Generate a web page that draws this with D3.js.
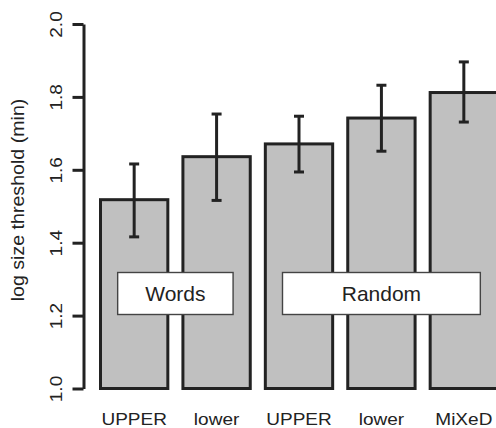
<!DOCTYPE html>
<html>
<head>
<meta charset="utf-8">
<script src="https://cdn.jsdelivr.net/npm/d3@7"></script>
<style>
  html, body { margin: 0; padding: 0; background: #fff; }
  svg { display: block; }
  text { font-family: "Liberation Sans", Arial, Helvetica, sans-serif; fill: #222; }
</style>
</head>
<body>
<div id="chart"></div>
<script>
// data
const categories = ["UPPER", "lower", "UPPER", "lower", "MiXeD"];
const means = [1.518, 1.636, 1.671, 1.742, 1.812];
const errLow = [1.416, 1.516, 1.594, 1.651, 1.731];
const errHigh = [1.616, 1.753, 1.747, 1.832, 1.896];
const yTicks = [1.0, 1.2, 1.4, 1.6, 1.8, 2.0];
const groups = ["Words", "Random"];
const groupFirst = [0, 2];
const groupLast = [1, 4];

const width = 496, height = 428;
const dark = "#222";

const svg = d3.select("#chart")
  .append("svg")
  .attr("width", width)
  .attr("height", height);

const idx = d3.range(categories.length);

// x scale, one band per bar (bars run off the right edge like the original)
const x = d3.scaleBand()
  .domain(idx)
  .range([100.5, 497.5])
  .paddingInner(0.183)
  .paddingOuter(0);

const y = d3.scaleLinear()
  .domain([1.0, 2.0])
  .range([388.5, 24]);

// y axis
const axisX = 83.5;
const yAxis = svg.append("g")
  .attr("transform", `translate(${axisX},0)`)
  .call(d3.axisLeft(y).tickValues(yTicks).tickSize(11).tickSizeOuter(0).tickFormat(d3.format(".1f")));

yAxis.select(".domain").attr("stroke", dark).attr("stroke-width", 3);
yAxis.selectAll(".tick line").attr("stroke", dark).attr("stroke-width", 3);
yAxis.selectAll(".tick text")
  .attr("x", 0)
  .attr("y", -21.5)
  .attr("dy", null)
  .attr("text-anchor", "middle")
  .attr("transform", "rotate(-90) scale(1.12,1)")
  .style("font-size", "17px")
  .attr("fill", "#333");

// axis title
svg.append("text")
  .attr("transform", "translate(24,200) rotate(-90) scale(1.09,1)")
  .attr("text-anchor", "middle")
  .style("font-size", "18px")
  .attr("fill", "#333")
  .text("log size threshold (min)");

// bars
svg.append("g")
  .selectAll("rect")
  .data(idx)
  .join("rect")
  .attr("x", i => x(i))
  .attr("y", i => y(means[i]))
  .attr("width", x.bandwidth())
  .attr("height", i => y(1.0) - y(means[i]))
  .attr("fill", "#c0c0c0")
  .attr("stroke", dark)
  .attr("stroke-width", 3);

// error bars
const cap = 5;
const eb = svg.append("g")
  .attr("stroke", dark)
  .attr("stroke-width", 3)
  .selectAll("g")
  .data(idx)
  .join("g")
  .attr("transform", i => `translate(${x(i) + x.bandwidth() / 2},0)`);
eb.append("line")
  .attr("y1", i => y(errLow[i]))
  .attr("y2", i => y(errHigh[i]));
eb.append("line")
  .attr("x1", -cap).attr("x2", cap)
  .attr("y1", i => y(errHigh[i])).attr("y2", i => y(errHigh[i]));
eb.append("line")
  .attr("x1", -cap).attr("x2", cap)
  .attr("y1", i => y(errLow[i])).attr("y2", i => y(errLow[i]));

// group label boxes
const boxPad = 16.5;
const boxTop = 272.5, boxH = 42;
const gl = svg.append("g")
  .selectAll("g")
  .data(d3.range(groups.length))
  .join("g");
gl.append("rect")
  .attr("x", g => x(groupFirst[g]) + x.bandwidth() / 2 - boxPad)
  .attr("y", boxTop)
  .attr("width", g => x(groupLast[g]) - x(groupFirst[g]) + 2 * boxPad)
  .attr("height", boxH)
  .attr("fill", "#fff")
  .attr("stroke", "#444")
  .attr("stroke-width", 1.4);
gl.append("text")
  .attr("transform", g => {
    const cx = (x(groupFirst[g]) + x(groupLast[g])) / 2 + x.bandwidth() / 2;
    return `translate(${cx},301) scale(1.05,1)`;
  })
  .attr("text-anchor", "middle")
  .style("font-size", "20px")
  .text(g => groups[g]);

// category labels
svg.append("g")
  .selectAll("text")
  .data(idx)
  .join("text")
  .attr("transform", i => `translate(${x(i) + x.bandwidth() / 2},425) scale(1.12,1)`)
  .attr("text-anchor", "middle")
  .style("font-size", "17px")
  .text(i => categories[i]);
</script>
</body>
</html>
